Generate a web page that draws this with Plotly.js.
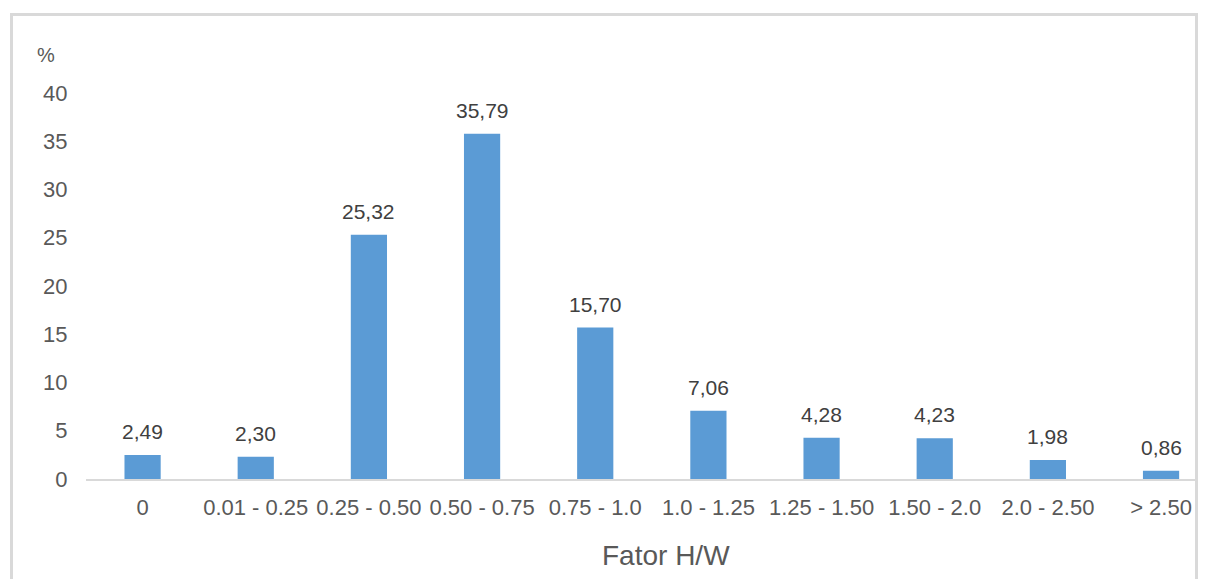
<!DOCTYPE html>
<html><head><meta charset="utf-8">
<script src="https://cdn.plot.ly/plotly-3.0.1.min.js"></script>
<style>
html,body{margin:0;padding:0;background:#fff;}
#frame{position:absolute;left:10px;top:13px;width:1188px;height:620px;border:3px solid #d9d9d9;border-bottom:none;box-sizing:border-box;}
#chart{position:absolute;left:0;top:0;width:1205px;height:579px;}
</style></head>
<body>
<div id="frame"></div>
<div id="chart"></div>
<script>
const categories = ["0","0.01 - 0.25","0.25 - 0.50","0.50 - 0.75","0.75 - 1.0","1.0 - 1.25","1.25 - 1.50","1.50 - 2.0","2.0 - 2.50","> 2.50"];
const values = [2.49,2.30,25.32,35.79,15.70,7.06,4.28,4.23,1.98,0.86];
const labels = ["2,49","2,30","25,32","35,79","15,70","7,06","4,28","4,23","1,98","0,86"];
const yTicks = [0,5,10,15,20,25,30,35,40];
const xTitle = 'Fator H/W';

const FONT = 'Liberation Sans, Arial, sans-serif';
const xs = categories.map((c,i)=>i);
const trace = {
  type:'bar', x:xs, y:values,
  marker:{color:'#5b9bd5'}, width:0.32, hoverinfo:'none'
};
const valueLabels = xs.map((x,i)=>({
  x:x, y:values[i], xref:'x', yref:'y', text:labels[i], showarrow:false,
  xanchor:'center', yanchor:'bottom', yshift:10,
  font:{family:FONT, size:21, color:'#404040'}
}));
const layout = {
  width:1205, height:579,
  paper_bgcolor:'rgba(0,0,0,0)', plot_bgcolor:'rgba(0,0,0,0)',
  margin:{l:86, r:10, t:93, b:100},
  showlegend:false,
  font:{family:FONT, color:'#595959'},
  xaxis:{
    range:[-0.5,9.3], tickmode:'array', tickvals:xs, ticktext:categories,
    showgrid:false, zeroline:false, showline:true, linecolor:'#d9d9d9', linewidth:1.5,
    ticks:'outside', ticklen:8, tickcolor:'rgba(0,0,0,0)',
    tickfont:{size:22, color:'#595959'}
  },
  yaxis:{
    range:[0,40], tickmode:'array', tickvals:yTicks,
    showgrid:false, zeroline:false, showline:false,
    ticks:'outside', ticklen:13, tickcolor:'rgba(0,0,0,0)',
    tickfont:{size:22, color:'#595959'}
  },
  annotations:[
    {text:'%', xref:'paper', yref:'paper', x:-0.036, y:1.098, xanchor:'center', yanchor:'middle', showarrow:false, font:{family:FONT, size:20, color:'#595959'}},
    {text:xTitle, xref:'paper', yref:'paper', x:0.523, y:-0.197, xanchor:'center', yanchor:'middle', showarrow:false, font:{family:FONT, size:28, color:'#595959'}}
  ].concat(valueLabels)
};
Plotly.newPlot('chart',[trace],layout,{displayModeBar:false, staticPlot:true});
</script>
</body></html>
